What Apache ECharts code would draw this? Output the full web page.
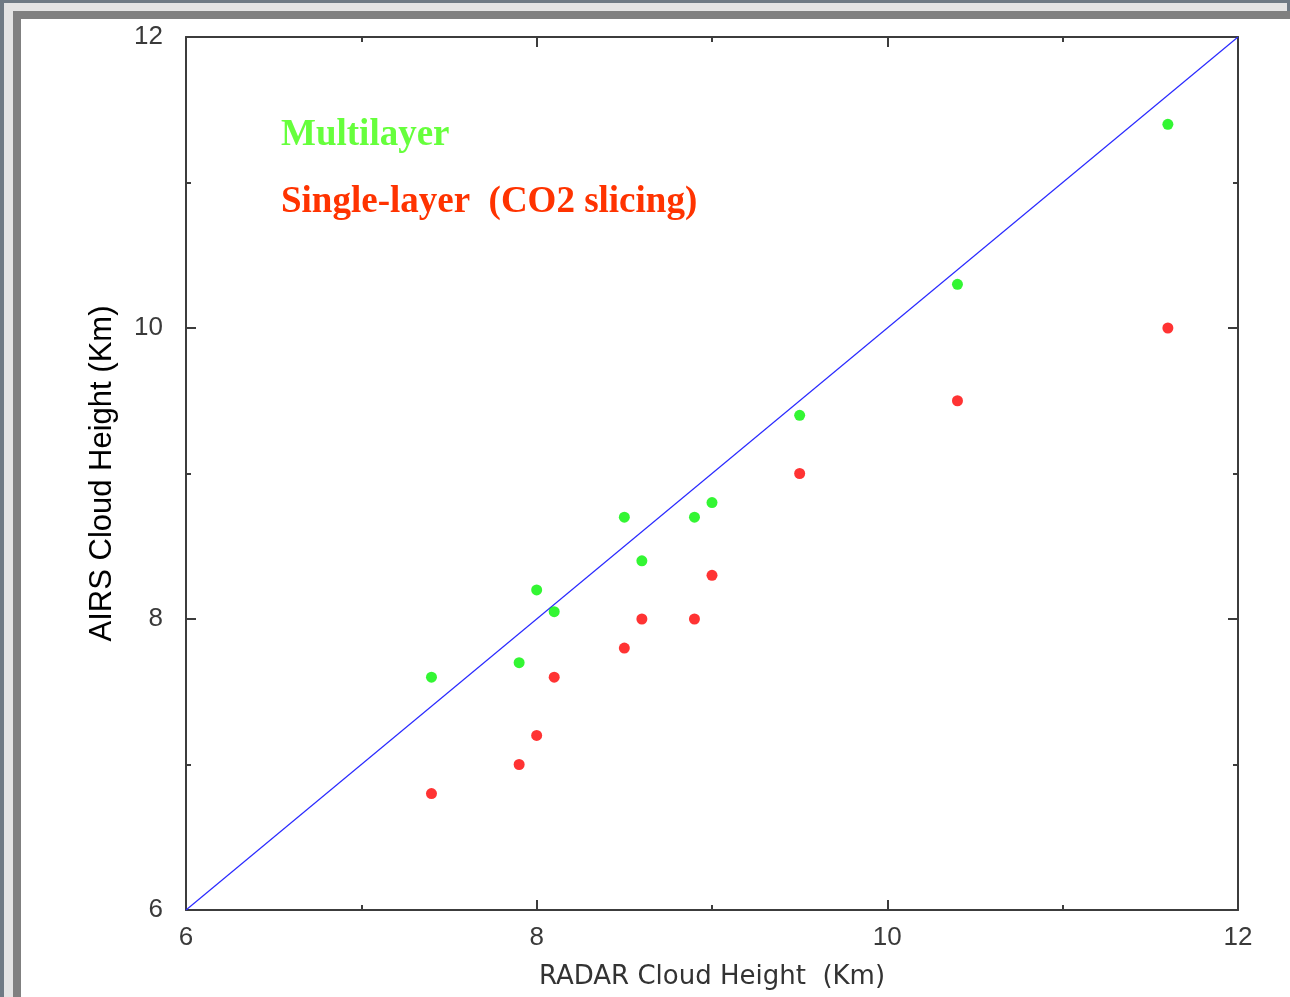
<!DOCTYPE html>
<html>
<head>
<meta charset="utf-8">
<script src="https://cdn.jsdelivr.net/npm/echarts@6/dist/echarts.min.js"></script>
<style>
html,body{margin:0;padding:0;background:#6f7a84;}
#chart{width:1290px;height:997px;}
</style>
</head>
<body>
<div id="chart"></div>
<script>
// RADAR cloud height (x) for each case
const radarHeight = [7.4, 7.9, 8.0, 8.1, 8.5, 8.6, 8.9, 9.0, 9.5, 10.4, 11.6];
// AIRS cloud height, multilayer retrieval
const multilayerHeight = [7.6, 7.7, 8.2, 8.05, 8.7, 8.4, 8.7, 8.8, 9.4, 10.3, 11.4];
// AIRS cloud height, single-layer (CO2 slicing) retrieval
const singleLayerHeight = [6.8, 7.0, 7.2, 7.6, 7.8, 8.0, 8.0, 8.3, 9.0, 9.5, 10.0];
// 1:1 reference line
const oneToOne = [6, 12];
const axisMin = 6, axisMax = 12;
const seriesNames = ['Multilayer', 'Single-layer  (CO2 slicing)'];
const xTitle = 'RADAR Cloud Height  (Km)';
const yTitle = 'AIRS Cloud Height (Km)';

const chart = echarts.init(document.getElementById('chart'), null, {renderer: 'canvas'});

const axisColor = '#3c3c3c';
const labelFont = {fontFamily: 'Liberation Sans', fontSize: 26, color: '#3a3a3a'};

function baseAxis(extra) {
  return Object.assign({
    type: 'value',
    min: axisMin,
    max: axisMax,
    interval: 2,
    axisLine: {show: true, lineStyle: {color: axisColor, width: 2}},
    axisTick: {show: true, inside: true, length: 10, lineStyle: {color: axisColor, width: 2}},
    minorTick: {show: true, splitNumber: 2, length: 5, lineStyle: {color: axisColor, width: 2}},
    splitLine: {show: false},
    minorSplitLine: {show: false}
  }, extra);
}

const option = {
  backgroundColor: '#6f7a84',
  animation: false,
  graphic: [
    {type: 'rect', shape: {x: 4, y: 3, width: 1283, height: 994}, style: {fill: '#e4e4e4'}, z: -10},
    {type: 'rect', shape: {x: 13, y: 11, width: 1277, height: 986}, style: {fill: '#808080'}, z: -9},
    {type: 'rect', shape: {x: 21, y: 19, width: 1269, height: 978}, style: {fill: '#ffffff'}, z: -8},
    {type: 'text', left: 281, top: 117, style: {text: seriesNames[0], fill: '#66ff3c', font: 'bold 37px "Liberation Serif"'}, z: 10},
    {type: 'text', left: 281, top: 184, style: {text: seriesNames[1], fill: '#ff3300', font: 'bold 37px "Liberation Serif"'}, z: 10}
  ],
  grid: {left: 186, right: 52, top: 37, bottom: 87, containLabel: false},
  xAxis: [
    baseAxis({
      position: 'bottom',
      name: xTitle,
      nameLocation: 'middle',
      nameGap: 54,
      nameTextStyle: {fontFamily: 'DejaVu Sans', fontSize: 26, color: '#333333'},
      axisLabel: Object.assign({margin: 15}, labelFont)
    }),
    baseAxis({position: 'top', axisLabel: {show: false}})
  ],
  yAxis: [
    baseAxis({
      position: 'left',
      name: yTitle,
      nameLocation: 'middle',
      nameRotate: 90,
      nameGap: 68,
      nameTextStyle: {fontFamily: 'Liberation Sans', fontSize: 31, color: '#000000'},
      axisLabel: Object.assign({margin: 23}, labelFont)
    }),
    baseAxis({position: 'right', axisLabel: {show: false}})
  ],
  series: [
    {
      type: 'line',
      name: '1:1',
      data: oneToOne.map(v => [v, v]),
      symbol: 'none',
      lineStyle: {color: '#2a2aff', width: 1.2},
      silent: true,
      z: 1
    },
    {
      type: 'scatter',
      name: seriesNames[0],
      data: radarHeight.map((x, i) => [x, multilayerHeight[i]]),
      symbol: 'circle',
      symbolSize: 11,
      itemStyle: {color: '#00f400'},
      z: 3
    },
    {
      type: 'scatter',
      name: seriesNames[1],
      data: radarHeight.map((x, i) => [x, singleLayerHeight[i]]),
      symbol: 'circle',
      symbolSize: 11,
      itemStyle: {color: '#ff0000'},
      z: 3
    }
  ]
};
chart.setOption(option);
</script>
</body>
</html>
